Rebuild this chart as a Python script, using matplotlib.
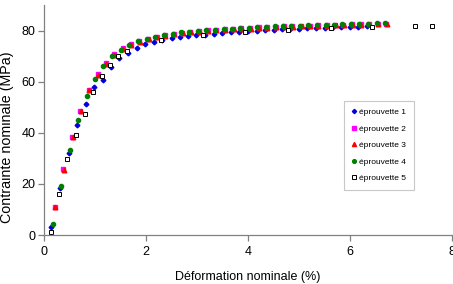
import matplotlib
matplotlib.use("Agg")
import matplotlib.pyplot as plt

plt.rcParams['font.family'] = ['Liberation Sans', 'DejaVu Sans']

# éprouvette 1 (blue diamonds)
x1 = [0.14, 0.32, 0.49, 0.65, 0.82, 0.99, 1.16, 1.31, 1.48, 1.65, 1.82, 1.99, 2.16, 2.32,
      2.50, 2.66, 2.82, 2.99, 3.16, 3.33, 3.49, 3.66, 3.83, 4.00, 4.17, 4.33, 4.50, 4.66,
      4.83, 5.00, 5.16, 5.33, 5.50, 5.66, 5.83, 6.00, 6.16, 6.33]
y1 = [3.3, 18.4, 32.1, 43.1, 51.4, 58.1, 60.8, 65.7, 69.2, 71.1, 73.2, 74.8, 75.7, 76.4,
      77.0, 77.4, 77.7, 78.1, 78.3, 78.6, 79.0, 79.3, 79.5, 79.8, 80.0, 80.1, 80.3, 80.5,
      80.6, 80.8, 80.9, 81.0, 81.1, 81.2, 81.3, 81.4, 81.5, 81.6]

# éprouvette 2 (magenta squares)
x2 = [0.21, 0.38, 0.55, 0.71, 0.88, 1.05, 1.21, 1.37, 1.54, 1.70, 1.87, 2.04, 2.21, 2.37,
      2.54, 2.71, 2.87, 3.04, 3.21, 3.37, 3.54, 3.71, 3.87, 4.04, 4.21, 4.37, 4.54, 4.71,
      4.87, 5.04, 5.21, 5.37, 5.54, 5.71, 5.87, 6.04, 6.21, 6.37, 6.54, 6.71]
y2 = [11.1, 25.7, 38.4, 48.7, 56.8, 63.0, 67.2, 70.7, 73.1, 74.7, 75.9, 76.8, 77.5, 78.2,
      78.7, 79.1, 79.5, 79.8, 80.1, 80.3, 80.5, 80.7, 80.9, 81.0, 81.2, 81.3, 81.5, 81.6,
      81.7, 81.8, 81.9, 82.0, 82.1, 82.2, 82.3, 82.4, 82.5, 82.6, 82.7, 82.7]

# éprouvette 3 (red triangles)
x3 = [0.22, 0.39, 0.56, 0.72, 0.89, 1.06, 1.22, 1.38, 1.55, 1.71, 1.88, 2.05, 2.22, 2.38,
      2.55, 2.72, 2.88, 3.05, 3.22, 3.38, 3.55, 3.72, 3.88, 4.05, 4.22, 4.38, 4.55, 4.72,
      4.88, 5.05, 5.22, 5.38, 5.55, 5.72, 5.88, 6.05, 6.22, 6.38, 6.55, 6.72]
y3 = [11.0, 25.5, 38.2, 48.5, 56.6, 62.8, 67.0, 70.5, 72.9, 74.5, 75.7, 76.6, 77.3, 78.0,
      78.5, 78.9, 79.3, 79.6, 79.9, 80.1, 80.3, 80.5, 80.7, 80.8, 81.0, 81.1, 81.3, 81.4,
      81.5, 81.6, 81.7, 81.8, 81.9, 82.0, 82.1, 82.2, 82.3, 82.4, 82.5, 82.5]

# éprouvette 4 (green circles)
x4 = [0.17, 0.34, 0.51, 0.67, 0.84, 1.00, 1.16, 1.34, 1.50, 1.67, 1.84, 2.01, 2.18, 2.35,
      2.52, 2.68, 2.85, 3.02, 3.18, 3.35, 3.52, 3.68, 3.85, 4.02, 4.18, 4.35, 4.52, 4.68,
      4.85, 5.02, 5.18, 5.35, 5.52, 5.68, 5.85, 6.02, 6.18, 6.35, 6.52, 6.68]
y4 = [4.3, 19.3, 33.2, 44.9, 54.2, 61.0, 66.3, 70.0, 72.4, 74.3, 75.8, 76.7, 77.5, 78.3,
      78.8, 79.3, 79.6, 79.9, 80.2, 80.4, 80.6, 80.8, 81.0, 81.1, 81.3, 81.4, 81.6, 81.7,
      81.8, 81.9, 82.0, 82.1, 82.2, 82.3, 82.4, 82.5, 82.6, 82.7, 82.8, 82.9]

# éprouvette 5 (open squares)
x5 = [0.13, 0.30, 0.46, 0.63, 0.80, 0.97, 1.13, 1.29, 1.46, 1.62, 2.29, 3.12, 3.95, 4.79,
      5.62, 6.44, 7.27, 7.61]
y5 = [1.0, 16.2, 29.9, 39.3, 47.5, 55.9, 62.3, 66.7, 70.1, 71.9, 76.4, 78.3, 79.6, 80.3,
      80.9, 81.3, 81.6, 81.6]

labels = ['éprouvette 1', 'éprouvette 2', 'éprouvette 3', 'éprouvette 4', 'éprouvette 5']
xticks = [0, 2, 4, 6, 8]
yticks = [0, 20, 40, 60, 80]

fig = plt.figure(figsize=(4.53, 2.84), dpi=100)
ax = fig.add_axes([44 / 453, 49 / 284, 408 / 453, 230 / 284])

ms = 3.0
ax.plot(x1, y1, ls='none', marker='D', ms=ms - 0.6, color='#0000E0', label=labels[0])
ax.plot(x2, y2, ls='none', marker='s', ms=ms, color='#FF00FF', label=labels[1])
ax.plot(x3, y3, ls='none', marker='^', ms=ms + 0.3, color='#FF0000', label=labels[2])
ax.plot(x4, y4, ls='none', marker='o', ms=ms, color='#008000', label=labels[3])
ax.plot(x5, y5, ls='none', marker='s', ms=ms, mfc='white', mec='black', mew=0.7,
        label=labels[4])

ax.set_xlim(0, 8)
ax.set_ylim(0, 90)
ax.set_xticks(xticks)
ax.set_yticks(yticks)
for s in ['top', 'right']:
    ax.spines[s].set_visible(False)
for s in ['left', 'bottom']:
    ax.spines[s].set_color('#808080')
    ax.spines[s].set_linewidth(0.9)
ax.tick_params(axis='both', colors='#808080', labelcolor='black', labelsize=9,
               length=4, width=0.9, direction='out')
ax.tick_params(axis='x', pad=4)
ax.tick_params(axis='y', pad=2)

ax.set_xlabel('Déformation nominale (%)', fontsize=9, labelpad=9)
fig.text(0.015, (284 - 137) / 284, 'Contrainte nominale (MPa)', rotation=90,
         ha='center', va='center', fontsize=10.3)

leg = ax.legend(loc='upper left', bbox_to_anchor=(0.736, 0.584), fontsize=6,
                frameon=True, fancybox=False, edgecolor='#C8C8C8', framealpha=1,
                labelspacing=1.05, handlelength=0.6, handletextpad=0.3,
                borderpad=0.9, borderaxespad=0, markerscale=0.9)
leg.get_frame().set_linewidth(0.8)

fig.savefig('out.png', dpi=100)
